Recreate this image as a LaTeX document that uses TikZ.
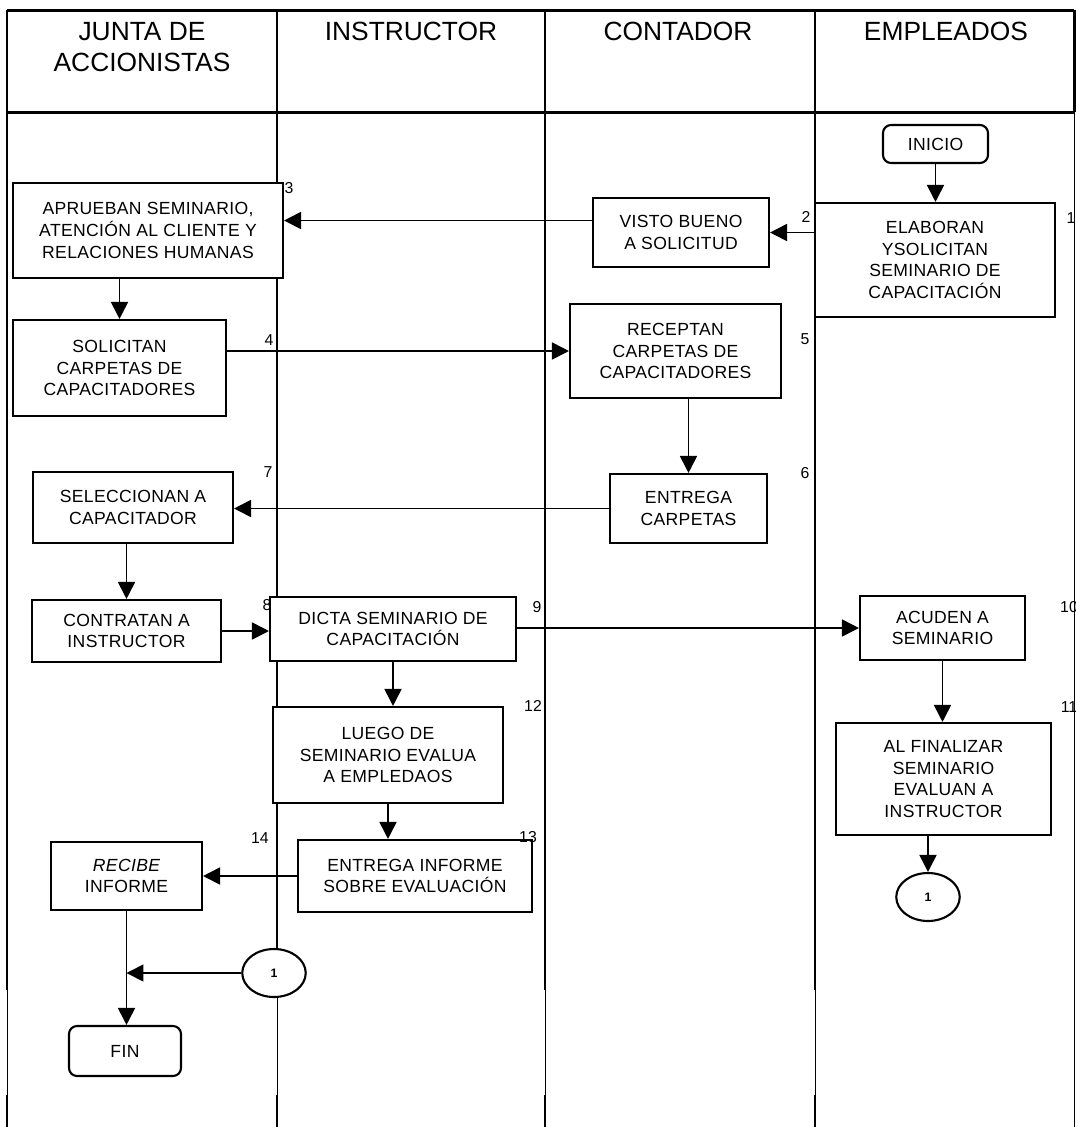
\documentclass[tikz,border=0pt]{standalone}
\usepackage{fontspec}
\setmainfont{Liberation Sans}
\usetikzlibrary{arrows.meta,shapes.geometric}

\begin{document}
\begin{tikzpicture}[x=0.02cm,y=-0.02cm,
    caja/.style={draw,line width=1.2pt,fill=white,align=center,inner sep=2pt,
        font=\fontsize{10}{12.3}\selectfont\addfontfeatures{LetterSpace=2}},
    terminal/.style={caja,rounded corners=0.16cm},
    conector/.style={draw,ellipse,line width=1.2pt,fill=white,inner sep=0pt,
        minimum width=1.27cm,minimum height=0.96cm,font=\fontsize{7}{8}\selectfont\bfseries},
    flecha/.style={line width=1pt,-{Triangle[length=0.34cm,width=0.34cm]}},
    num/.style={inner sep=0pt,font=\fontsize{9}{10}\selectfont},
    titulo/.style={align=center,font=\fontsize{15}{18}\selectfont}]

    \useasboundingbox (0,0) rectangle (1076,1127);

    % Carriles (lineas verticales y encabezado)
    \foreach \x in {7,277,545,815} {
        \draw[line width=0.5pt] (\x,10) -- (\x,1127);
        \draw[line width=1.7pt] (\x,10) -- (\x,990);
        \draw[line width=1.7pt] (\x,1095) -- (\x,1127);
    }
    \draw[line width=1.7pt] (1074,10) -- (1074,112);
    \draw[line width=0.5pt] (1074,112) -- (1074,1127);
    \draw[line width=1.7pt] (7,10) -- (1074,10);
    \draw[line width=1.7pt] (7,112) -- (1074,112);

    % Titulos de los carriles
    \node[titulo] (hJunta) at (142,47) {JUNTA DE\\ACCIONISTAS};
    \node[titulo] (hInstr) at (411,31) {INSTRUCTOR};
    \node[titulo] (hCont) at (678,31) {CONTADOR};
    \node[titulo] (hEmpl) at (946,31) {EMPLEADOS};

    % Empleados
    \node[terminal,minimum width=2.1cm,minimum height=0.76cm] (inicio) at (935.5,144) {INICIO};
    \node[caja,minimum width=4.8cm,minimum height=2.28cm] (elaboran) at (935,260)
        {ELABORAN\\YSOLICITAN\\SEMINARIO DE\\CAPACITACIÓN};
    \node[caja,minimum width=3.3cm,minimum height=1.28cm] (acuden) at (942.5,628) {ACUDEN A\\SEMINARIO};
    \node[caja,minimum width=4.3cm,minimum height=2.24cm] (finaliza) at (943.5,779)
        {AL FINALIZAR\\SEMINARIO\\EVALUAN A\\INSTRUCTOR};
    \node[conector] (conB) at (928,897) {1};

    % Contador
    \node[caja,minimum width=3.52cm,minimum height=1.38cm] (visto) at (681,232.5) {VISTO BUENO\\A SOLICITUD};
    \node[caja,minimum width=4.22cm,minimum height=1.88cm] (receptan) at (675.5,351)
        {RECEPTAN\\CARPETAS DE\\CAPACITADORES};
    \node[caja,minimum width=3.14cm,minimum height=1.38cm] (entregaC) at (688.5,508.5) {ENTREGA\\CARPETAS};

    % Junta de accionistas
    \node[caja,minimum width=5.4cm,minimum height=1.9cm] (aprueban) at (148,230.5)
        {APRUEBAN SEMINARIO,\\ATENCIÓN AL CLIENTE Y\\RELACIONES HUMANAS};
    \node[caja,minimum width=4.26cm,minimum height=1.92cm] (solicitan) at (119.5,368)
        {SOLICITAN\\CARPETAS DE\\CAPACITADORES};
    \node[caja,minimum width=4cm,minimum height=1.42cm] (selecc) at (133,507.5) {SELECCIONAN A\\CAPACITADOR};
    \node[caja,minimum width=3.78cm,minimum height=1.24cm] (contratan) at (126.5,631) {CONTRATAN A\\INSTRUCTOR};
    \node[caja,minimum width=3.02cm,minimum height=1.36cm] (recibe) at (126.5,876) {\itshape RECIBE\\INFORME};
    \node[terminal,minimum width=2.24cm,minimum height=1cm] (fin) at (125,1051) {FIN};

    % Instructor
    \node[caja,minimum width=4.92cm,minimum height=1.28cm] (dicta) at (393,629)
        {DICTA SEMINARIO DE\\CAPACITACIÓN};
    \node[caja,minimum width=4.6cm,minimum height=1.92cm] (luego) at (388,755)
        {LUEGO DE\\SEMINARIO EVALUA\\A EMPLEDAOS};
    \node[caja,minimum width=4.68cm,minimum height=1.44cm] (entregaI) at (415,876)
        {ENTREGA INFORME\\SOBRE EVALUACIÓN};
    \node[conector] (conA) at (274,973) {1};
    \coordinate (union) at (recibe.south |- conA.west);

    % Numeros de paso
    \node[num] (n1) at (1071,218) {1};
    \node[num] (n2) at (806,217) {2};
    \node[num] (n3) at (289,188) {3};
    \node[num] (n4) at (269,340) {4};
    \node[num] (n5) at (805,339) {5};
    \node[num] (n6) at (805,473) {6};
    \node[num] (n7) at (268,472) {7};
    \node[num] (n8) at (267,605) {8};
    \node[num] (n9) at (537,607) {9};
    \node[num] (n10) at (1069,607) {10};
    \node[num] (n11) at (1069,707) {11};
    \node[num] (n12) at (533,706) {12};
    \node[num] (n13) at (528,837) {13};
    \node[num] (n14) at (260,838) {14};

    % Flujo
    \draw[flecha] (inicio.south) -- (elaboran.north -| inicio.south);
    \draw[flecha] (visto.east -| elaboran.west) -- (visto.east);
    \draw[flecha] ([yshift=0.24cm]visto.west) -- ([yshift=0.24cm]visto.west -| aprueban.east);
    \draw[flecha] (aprueban.south -| solicitan.north) -- (solicitan.north);
    \draw[flecha] (solicitan.east |- receptan.west) -- (receptan.west);
    \draw[flecha] (receptan.south -| entregaC.north) -- (entregaC.north);
    \draw[flecha] (entregaC.west) -- (entregaC.west -| selecc.east);
    \draw[flecha] (selecc.south -| contratan.north) -- (contratan.north);
    \draw[flecha] (contratan.east) -- (contratan.east -| dicta.west);
    \draw[flecha] (acuden.west -| dicta.east) -- (acuden.west);
    \draw[flecha] (dicta.south) -- (dicta.south |- luego.north);
    \draw[flecha] (acuden.south) -- (acuden.south |- finaliza.north);
    \draw[flecha] (luego.south) -- (luego.south |- entregaI.north);
    \draw[flecha] (entregaI.west) -- (entregaI.west -| recibe.east);
    \draw[flecha] (finaliza.south -| conB.north) -- (conB.north);
    \draw[flecha] (recibe.south) -- (recibe.south |- fin.north);
    \draw[flecha] (conA.west) -- (union);

\end{tikzpicture}
\end{document}
